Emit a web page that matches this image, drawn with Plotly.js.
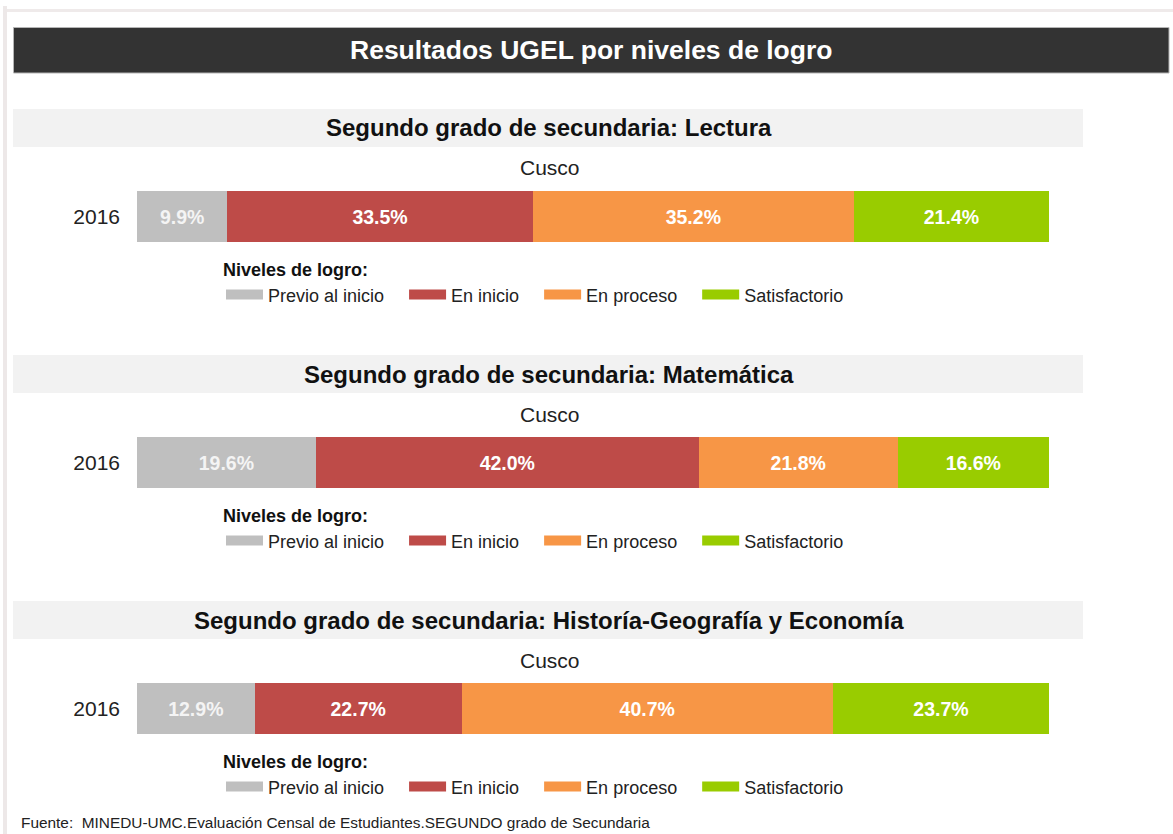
<!DOCTYPE html>
<html>
<head>
<meta charset="utf-8">
<script src="https://cdn.plot.ly/plotly-3.0.1.min.js"></script>
<style>
html,body{margin:0;padding:0;background:#fff;}
#chart{width:1173px;height:834px;}
</style>
</head>
<body>
<div id="chart"></div>
<script>
const categories = ['Previo al inicio', 'En inicio', 'En proceso', 'Satisfactorio'];
const colors = ['#bfbfbf', '#be4b48', '#f79646', '#99cc00'];
const years = ['2016'];
const region = 'Cusco';
const mainTitle = 'Resultados UGEL por niveles de logro';
const subjects = [
  'Segundo grado de secundaria: Lectura',
  'Segundo grado de secundaria: Matemática',
  'Segundo grado de secundaria: Historía-Geografía y Economía'
];
const lectura = [9.9, 33.5, 35.2, 21.4];
const matematica = [19.6, 42.0, 21.8, 16.6];
const historia = [12.9, 22.7, 40.7, 23.7];
const seriesBySubject = [lectura, matematica, historia];
const legendTitle = 'Niveles de logro:';
const source = 'Fuente:  MINEDU-UMC.Evaluación Censal de Estudiantes.SEGUNDO grado de Secundaria';

const W = 1173, H = 834;
const X = px => px / W;
const Y = py => 1 - py / H;
const FONT = 'Liberation Sans, Arial, Helvetica, sans-serif';
const STEP = 246;
const PAD = '\u00a0\u00a0\u00a0';

const data = [];
const layout = {
  width: W, height: H,
  margin: {l: 0, r: 0, t: 0, b: 0},
  paper_bgcolor: '#ffffff',
  plot_bgcolor: 'rgba(0,0,0,0)',
  barmode: 'stack',
  font: {family: FONT, color: '#222222'},
  shapes: [],
  annotations: []
};

// page frame lines
layout.shapes.push({type: 'rect', xref: 'paper', yref: 'paper', x0: X(3), x1: 1, y0: Y(12), y1: Y(9), fillcolor: '#efeaea', line: {width: 0}, layer: 'below'});
layout.shapes.push({type: 'rect', xref: 'paper', yref: 'paper', x0: X(3), x1: X(7), y0: 0, y1: Y(6), fillcolor: '#ede8e8', line: {width: 0}, layer: 'below'});
// main title bar
layout.shapes.push({type: 'rect', xref: 'paper', yref: 'paper', x0: X(13.5), x1: X(1169), y0: Y(73), y1: Y(27.5), fillcolor: '#333333', line: {color: '#b5b5b5', width: 1}, layer: 'below'});
layout.annotations.push({xref: 'paper', yref: 'paper', x: X(591), y: Y(50), xanchor: 'center', yanchor: 'middle', showarrow: false, text: '<b>' + mainTitle + '</b>', font: {family: FONT, size: 26.5, color: '#ffffff'}});

seriesBySubject.forEach((vals, i) => {
  const off = STEP * i;
  const sfx = i === 0 ? '' : String(i + 1);
  const xa = 'x' + sfx, ya = 'y' + sfx;
  const lg = 'legend' + sfx;

  layout['xaxis' + sfx] = {
    domain: [X(137), X(1049)], range: [0, 100], anchor: ya,
    visible: false, fixedrange: true
  };
  layout['yaxis' + sfx] = {
    domain: [Y(242 + off), Y(191 + off)], anchor: xa,
    type: 'category', range: [-0.5, 0.5],
    showgrid: false, zeroline: false, showline: false, ticks: '',
    ticklabelstandoff: 16,
    tickfont: {family: FONT, size: 21, color: '#222222'}, fixedrange: true
  };

  categories.forEach((cat, k) => {
    data.push({
      type: 'bar', orientation: 'h',
      x: [vals[k]], y: years,
      xaxis: xa, yaxis: ya,
      name: cat, width: 1,
      marker: {color: colors[k], line: {width: 0}},
      texttemplate: '%{x:.1f}%',
      textposition: 'inside', insidetextanchor: 'middle',
      constraintext: 'none',
      textfont: {family: FONT, size: 19.5, color: k === 0 ? '#f4f4f4' : '#ffffff', weight: 'bold'},
      hoverinfo: 'skip',
      showlegend: false,
      legend: lg
    });
  });
  categories.forEach((cat, k) => {
    data.push({
      type: 'scatter', mode: 'lines',
      x: [null], y: [null], xaxis: xa, yaxis: ya,
      name: cat + PAD, line: {color: colors[k], width: 12},
      hoverinfo: 'skip', showlegend: true, legend: lg
    });
  });

  layout[lg] = {
    orientation: 'h', x: X(221), xanchor: 'left', y: Y(253 + off), yanchor: 'top',
    bgcolor: 'rgba(0,0,0,0)', borderwidth: 0,
    itemwidth: 37,
    font: {family: FONT, size: 18, color: '#222222'},
    title: {text: '<b>' + legendTitle + '</b>', side: 'top', font: {family: FONT, size: 18, color: '#111111'}},
    traceorder: 'normal', itemclick: false, itemdoubleclick: false
  };

  layout.shapes.push({type: 'rect', xref: 'paper', yref: 'paper', x0: X(13), x1: X(1083), y0: Y(147 + off), y1: Y(109 + off), fillcolor: '#f2f2f2', line: {width: 0}, layer: 'below'});
  layout.annotations.push({xref: 'paper', yref: 'paper', x: X(549), y: Y(128 + off), xanchor: 'center', yanchor: 'middle', showarrow: false, text: '<b>' + subjects[i] + '</b>', font: {family: FONT, size: 24, color: '#111111'}});
  layout.annotations.push({xref: 'paper', yref: 'paper', x: X(550), y: Y(168 + off), xanchor: 'center', yanchor: 'middle', showarrow: false, text: region, font: {family: FONT, size: 21, color: '#222222'}});
});

layout.annotations.push({xref: 'paper', yref: 'paper', x: X(19), y: Y(822), xanchor: 'left', yanchor: 'middle', showarrow: false, text: source, font: {family: FONT, size: 15.4, color: '#222222'}});

Plotly.newPlot('chart', data, layout, {displayModeBar: false, staticPlot: true});
</script>
</body>
</html>
